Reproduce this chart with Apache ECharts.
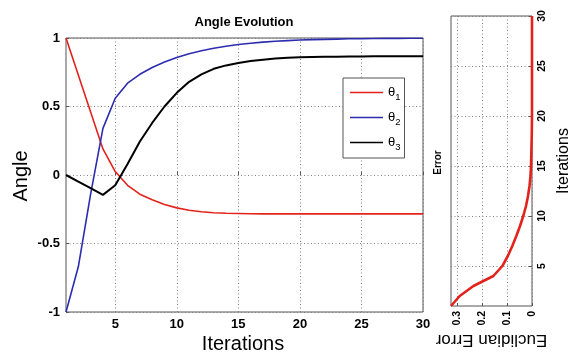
<!DOCTYPE html>
<html>
<head>
<meta charset="utf-8">
<script src="https://cdn.jsdelivr.net/npm/echarts@6/dist/echarts.min.js"></script>
<style>
  html, body { margin: 0; padding: 0; background: #fff; }
  #chart { width: 577px; height: 356px; }
</style>
</head>
<body>
<div id="chart"></div>
<script>
// Iteration index shared by both panels
const iterations = [1, 2, 3, 4, 5, 6, 7, 8, 9, 10, 11, 12, 13, 14, 15,
                    16, 17, 18, 19, 20, 21, 22, 23, 24, 25, 26, 27, 28, 29, 30];

// Joint angles per iteration
const theta1 = [1.0, 0.73, 0.46, 0.19, 0.025, -0.075, -0.14, -0.18, -0.215, -0.24,
                -0.257, -0.268, -0.275, -0.279, -0.281, -0.283, -0.284, -0.284, -0.284, -0.284,
                -0.284, -0.284, -0.284, -0.284, -0.284, -0.284, -0.284, -0.284, -0.284, -0.284];
const theta2 = [-1.0, -0.67, -0.14, 0.34, 0.56, 0.67, 0.735, 0.785, 0.825, 0.858,
                0.885, 0.907, 0.925, 0.94, 0.952, 0.962, 0.97, 0.976, 0.981, 0.985,
                0.988, 0.99, 0.992, 0.994, 0.995, 0.996, 0.997, 0.997, 0.998, 0.998];
const theta3 = [0.0, -0.048, -0.096, -0.145, -0.075, 0.08, 0.245, 0.38, 0.5, 0.6,
                0.68, 0.735, 0.775, 0.8, 0.818, 0.832, 0.842, 0.85, 0.855, 0.859,
                0.861, 0.863, 0.864, 0.865, 0.865, 0.866, 0.866, 0.866, 0.866, 0.866];

// Euclidian error per iteration
const euclidianError = [0.325, 0.29, 0.235, 0.155, 0.119, 0.097, 0.079, 0.063, 0.048, 0.035,
                        0.024, 0.016, 0.01, 0.006, 0.004, 0.003, 0.002, 0.001, 0.0005, 0.0,
                        0.0, 0.0, 0.0, 0.0, 0.0, 0.0, 0.0, 0.0, 0.0, 0.0];

// Tick values
const iterTicks = [5, 10, 15, 20, 25, 30];
const angleTicks = [-1, -0.5, 0, 0.5, 1];
const errorTicks = [0, 0.1, 0.2, 0.3];

const seriesNames = ['θ1', 'θ2', 'θ3'];
const seriesColors = ['#e3231b', '#2c2cb0', '#000000'];

const FONT = '"Liberation Sans", Arial, Helvetica, sans-serif';
const FRAME = '#555555';

const gridLines = { show: true, lineStyle: { color: '#808080', type: [1, 2.5], width: 1 } };
const tickStyle = (values) => ({ show: true, inside: true, length: 3, customValues: values, lineStyle: { color: FRAME } });
const labelStyle = (values, size, extra) => Object.assign({
  customValues: values, color: '#000', fontFamily: FONT, fontWeight: 'bold', fontSize: size
}, extra || {});

const chart = echarts.init(document.getElementById('chart'), null, { renderer: 'canvas' });

const pairs = (ys) => ys.map((v, i) => [iterations[i], v]);

chart.setOption({
  animation: false,
  backgroundColor: '#fff',
  grid: [
    { left: 66, top: 38, width: 357, height: 274, show: true, borderColor: FRAME, borderWidth: 1, backgroundColor: '#fff' },
    { left: 451, top: 16, width: 81, height: 290, show: true, borderColor: FRAME, borderWidth: 1, backgroundColor: '#fff' }
  ],
  xAxis: [
    {
      gridIndex: 0, type: 'value', min: 1, max: 30,
      axisLine: { show: false },
      axisTick: tickStyle(iterTicks),
      axisLabel: labelStyle(iterTicks, 13, { margin: 6 }),
      splitLine: gridLines
    },
    {
      gridIndex: 1, type: 'value', min: 0, max: 0.325, inverse: true,
      axisLine: { show: false },
      axisTick: tickStyle(errorTicks),
      axisLabel: labelStyle(errorTicks, 10.5, { rotate: 90, margin: 5 }),
      splitLine: gridLines
    }
  ],
  yAxis: [
    {
      gridIndex: 0, type: 'value', min: -1, max: 1, interval: 0.5,
      axisLine: { show: false },
      axisTick: tickStyle(angleTicks),
      axisLabel: labelStyle(angleTicks, 13, { margin: 6 }),
      splitLine: gridLines
    },
    {
      gridIndex: 1, type: 'value', min: 1, max: 30, position: 'right',
      axisLine: { show: false },
      axisTick: tickStyle(iterTicks),
      axisLabel: labelStyle(iterTicks, 10.5, { rotate: 90, margin: 5 }),
      splitLine: gridLines
    }
  ],
  legend: {
    data: seriesNames,
    orient: 'vertical',
    left: 343, top: 78,
    backgroundColor: '#fff',
    borderColor: FRAME, borderWidth: 1, borderRadius: 0,
    padding: [5, 4, 6, 7],
    icon: 'rect',
    itemWidth: 33, itemHeight: 1.6, itemGap: 6,
    formatter: (name) => '{a|θ}{b|' + name.slice(1) + '}',
    textStyle: {
      color: '#000',
      rich: {
        a: { fontFamily: FONT, fontSize: 13, lineHeight: 19, color: '#000' },
        b: { fontFamily: FONT, fontSize: 9.5, lineHeight: 10, padding: [9, 0, 0, 0], color: '#000' }
      }
    }
  },
  series: [
    { name: seriesNames[0], type: 'line', xAxisIndex: 0, yAxisIndex: 0, data: pairs(theta1),
      showSymbol: false, symbol: 'none', lineStyle: { color: seriesColors[0], width: 1.6 }, itemStyle: { color: seriesColors[0] }, z: 3 },
    { name: seriesNames[1], type: 'line', xAxisIndex: 0, yAxisIndex: 0, data: pairs(theta2),
      showSymbol: false, symbol: 'none', lineStyle: { color: seriesColors[1], width: 1.6 }, itemStyle: { color: seriesColors[1] }, z: 3 },
    { name: seriesNames[2], type: 'line', xAxisIndex: 0, yAxisIndex: 0, data: pairs(theta3),
      showSymbol: false, symbol: 'none', lineStyle: { color: seriesColors[2], width: 2 }, itemStyle: { color: seriesColors[2] }, z: 3 },
    { name: 'Euclidian Error', type: 'line', xAxisIndex: 1, yAxisIndex: 1,
      data: euclidianError.map((e, i) => [e, iterations[i]]),
      showSymbol: false, symbol: 'none', lineStyle: { color: '#e3231b', width: 2.6 }, z: 3 }
  ],
  graphic: [
    { type: 'text', x: 244, y: 22, style: { text: 'Angle Evolution', font: 'bold 13px ' + FONT, fill: '#000', align: 'center', verticalAlign: 'middle' } },
    { type: 'text', x: 21, y: 176, rotation: Math.PI / 2, style: { text: 'Angle', font: '20px ' + FONT, fill: '#000', align: 'center', verticalAlign: 'middle' } },
    { type: 'text', x: 243, y: 344, style: { text: 'Iterations', font: '20px ' + FONT, fill: '#000', align: 'center', verticalAlign: 'middle' } },
    { type: 'text', x: 438.5, y: 162.5, rotation: Math.PI / 2, style: { text: 'Error', font: 'bold 10px ' + FONT, fill: '#000', align: 'center', verticalAlign: 'middle' } },
    { type: 'text', x: 564, y: 161, rotation: Math.PI / 2, style: { text: 'Iterations', font: '16px ' + FONT, fill: '#000', align: 'center', verticalAlign: 'middle' } },
    { type: 'text', x: 491.5, y: 340, rotation: Math.PI, style: { text: 'Euclidian Error', font: '17px ' + FONT, fill: '#000', align: 'center', verticalAlign: 'middle' } }
  ]
});
</script>
</body>
</html>
